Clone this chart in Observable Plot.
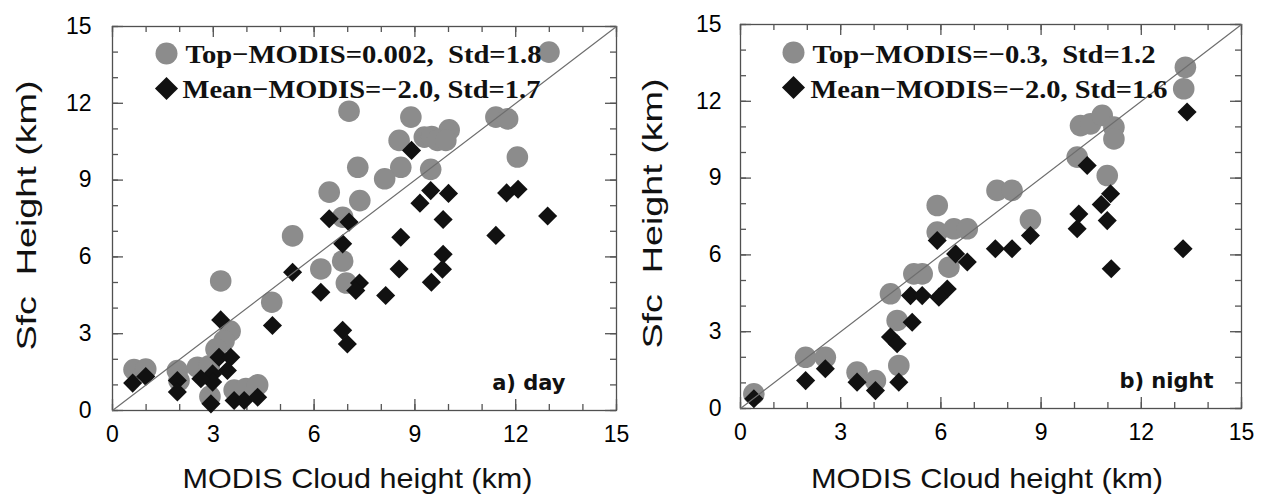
<!DOCTYPE html>
<html>
<head>
<meta charset="utf-8">
<script src="https://cdn.jsdelivr.net/npm/d3@7"></script>
<script src="https://cdn.jsdelivr.net/npm/@observablehq/plot@0.6"></script>
<style>
  html, body { margin: 0; padding: 0; background: #fff; }
  #wrap { position: relative; width: 1265px; height: 494px; overflow: hidden; background: #fff; }
  #pa { position: absolute; left: 0; top: 0; }
  #pb { position: absolute; left: 632px; top: 0; }
</style>
</head>
<body>
<div id="wrap"><div id="pa"></div><div id="pb"></div></div>
<script>
// ---------- data (km) ----------
// a) day : Top-MODIS circles
const dayTopX  = [7.04, 8.88, 10.02, 9.28, 9.5, 9.67, 9.92, 8.53, 11.41, 11.76, 12.05, 12.99, 7.3, 8.58, 8.1, 9.47, 6.45, 7.36, 6.85, 5.36, 6.2, 6.85, 6.96, 3.22, 4.74, 3.5, 3.32, 3.08, 0.64, 0.99, 1.93, 1.98, 2.53, 2.88, 2.9, 3.62, 3.97, 4.32];
const dayTopY  = [11.69, 11.46, 10.96, 10.68, 10.7, 10.55, 10.55, 10.55, 11.46, 11.39, 9.9, 14.0, 9.5, 9.5, 9.05, 9.42, 8.53, 8.2, 7.55, 6.82, 5.53, 5.84, 4.98, 5.06, 4.23, 3.1, 2.72, 2.4, 1.6, 1.62, 1.56, 1.17, 1.69, 1.75, 0.55, 0.8, 0.86, 1.0];
// a) day : Mean-MODIS diamonds
const dayMeanX = [8.9, 9.47, 10.0, 9.15, 11.73, 12.07, 12.95, 11.41, 9.84, 8.58, 9.84, 9.82, 9.49, 8.53, 8.13, 7.35, 7.24, 6.2, 5.36, 6.45, 7.04, 6.85, 6.85, 6.99, 4.76, 3.22, 3.17, 3.52, 3.42, 2.98, 2.98, 2.63, 1.93, 1.93, 0.6, 0.99, 2.93, 3.62, 3.92, 4.32];
const dayMeanY = [10.16, 8.59, 8.48, 8.1, 8.5, 8.64, 7.6, 6.84, 7.46, 6.77, 6.1, 5.52, 5.01, 5.53, 4.49, 4.98, 4.69, 4.62, 5.4, 7.49, 7.36, 6.51, 3.13, 2.6, 3.32, 3.54, 2.08, 2.08, 1.56, 1.43, 1.11, 1.24, 1.17, 0.72, 1.07, 1.33, 0.26, 0.39, 0.39, 0.52];
// b) night : Top-MODIS circles
const nightTopX  = [13.32, 13.27, 10.18, 10.48, 10.83, 11.18, 11.18, 10.08, 10.98, 7.68, 8.13, 5.89, 5.89, 6.39, 6.79, 8.68, 6.24, 5.19, 5.44, 4.49, 4.69, 4.74, 1.95, 2.54, 3.49, 4.04, 0.4];
const nightTopY  = [13.33, 12.49, 11.05, 11.12, 11.45, 10.99, 10.53, 9.82, 9.1, 8.52, 8.52, 7.93, 6.89, 7.02, 7.02, 7.37, 5.52, 5.26, 5.26, 4.48, 3.44, 1.68, 2.0, 2.0, 1.42, 1.09, 0.57];
// b) night : Mean-MODIS diamonds
const nightMeanX = [13.37, 10.38, 11.08, 10.8, 10.13, 10.98, 10.08, 13.25, 11.1, 8.68, 7.63, 8.13, 5.89, 6.44, 6.79, 6.19, 5.94, 5.09, 5.44, 5.14, 4.49, 4.69, 4.74, 4.04, 3.49, 2.54, 1.95, 0.4];
const nightMeanY = [11.58, 9.49, 8.39, 7.97, 7.6, 7.34, 7.02, 6.24, 5.46, 6.76, 6.24, 6.24, 6.56, 6.04, 5.72, 4.67, 4.35, 4.41, 4.41, 3.37, 2.79, 2.53, 1.03, 0.7, 1.03, 1.55, 1.09, 0.38];

const axisDomain = [0, 15];
const majorTicks = [0, 3, 6, 9, 12, 15];
const minorTicks = [0, 1, 2, 3, 4, 5, 6, 7, 8, 9, 10, 11, 12, 13, 14, 15];
const diagonal = [0, 15];
const xTitle = "MODIS Cloud height (km)";
const yTitle = "Sfc  Height (km)";
const dayLegend = ["Top\u2212MODIS=0.002,  Std=1.8", "Mean\u2212MODIS=\u22122.0, Std=1.7"];
const nightLegend = ["Top\u2212MODIS=\u22120.3,  Std=1.2", "Mean\u2212MODIS=\u22122.0, Std=1.6"];
const panelTags = ["a) day", "b) night"];

const zip = (xs, ys) => xs.map((x, i) => ({x, y: ys[i]}));

const frameColor = "#505050";
const tickColor = "#555555";
const circleGray = "#8c8c8c";
const diamondBlack = "#111111";

// short inward ticks on all four sides of the frame
function inwardTicks(ticks, size, innerW, innerH) {
  const st = {stroke: tickColor, strokeWidth: 1.3};
  return [
    Plot.tickX(ticks, {x: d => d, insetTop: innerH - size, ...st}),
    Plot.tickX(ticks, {x: d => d, insetBottom: innerH - size, ...st}),
    Plot.tickY(ticks, {y: d => d, insetRight: innerW - size, ...st}),
    Plot.tickY(ticks, {y: d => d, insetLeft: innerW - size, ...st})
  ];
}

function panel(o) {
  const innerW = o.width - o.ml - o.mr;
  const innerH = 494 - o.mt - o.mb;
  const svg = Plot.plot({
    width: o.width,
    height: 494,
    marginLeft: o.ml, marginRight: o.mr, marginTop: o.mt, marginBottom: o.mb,
    x: {domain: axisDomain, label: null},
    y: {domain: axisDomain, label: null},
    style: {fontFamily: "'Liberation Sans', Arial, Helvetica, sans-serif", fontSize: "23px", color: "black", background: "white", overflow: "visible"},
    marks: [
      Plot.frame({stroke: frameColor, strokeWidth: 1.3}),
      ...inwardTicks(minorTicks, 6, innerW, innerH),
      ...inwardTicks(majorTicks, 11, innerW, innerH),
      Plot.axisX({anchor: "bottom", ticks: majorTicks, tickSize: 0, tickPadding: 15, label: null, fontSize: 23}),
      Plot.axisY({anchor: "left", ticks: majorTicks, tickSize: 0, tickPadding: o.ypad, label: null, fontSize: 23}),
      Plot.dot(o.top, {x: "x", y: "y", r: 10.8, fill: circleGray, stroke: "none"}),
      Plot.dot(o.mean, {x: "x", y: "y", r: 8.6, symbol: "diamond2", fill: diamondBlack, stroke: "none"}),
      Plot.line(diagonal, {x: d => d, y: d => d, stroke: "#6e6e6e", strokeWidth: 1.2}),
      // legend
      Plot.dot([0], {x: null, y: null, frameAnchor: "top-left", dx: o.lg.cx, dy: o.lg.cy1, r: 11, fill: circleGray, stroke: "none"}),
      Plot.dot([0], {x: null, y: null, frameAnchor: "top-left", dx: o.lg.cx, dy: o.lg.cy2, r: 10.4, symbol: "diamond2", fill: diamondBlack, stroke: "none"}),
      Plot.text([o.legend[0]], {text: d => d, frameAnchor: "top-left", dx: o.lg.tx1, dy: o.lg.ty1, textAnchor: "start", lineAnchor: "bottom", fontFamily: "'Liberation Serif', 'Times New Roman', serif", fontWeight: "bold", fontSize: 26, fill: "#111"}),
      Plot.text([o.legend[1]], {text: d => d, frameAnchor: "top-left", dx: o.lg.tx2, dy: o.lg.ty2, textAnchor: "start", lineAnchor: "bottom", fontFamily: "'Liberation Serif', 'Times New Roman', serif", fontWeight: "bold", fontSize: 26, fill: "#111"}),
      // panel tag
      Plot.text([o.tag], {text: d => d, frameAnchor: "bottom-right", dx: o.tagdx, dy: -21, textAnchor: "end", lineAnchor: "bottom", fontFamily: "'DejaVu Sans', sans-serif", fontWeight: "bold", fontSize: 21, fill: "#111"}),
      // axis titles
      Plot.text([xTitle], {text: d => d, frameAnchor: "bottom", dx: o.xtdx, dy: o.xtdy, textAnchor: "middle", lineAnchor: "bottom", fontSize: 28, fill: "#111"}),
      Plot.text([yTitle], {text: d => d, frameAnchor: "left", dx: o.ytdx, dy: -3, rotate: -90, textAnchor: "middle", lineAnchor: "middle", fontSize: 28, fill: "#111"})
    ]
  });
  // stretch a few texts (glyphs included) to the widths they have in the original figure
  d3.select(svg).selectAll("text").each(function () {
    const t = this.textContent;
    const w = o.widths[t];
    if (w) { this.setAttribute("textLength", w); this.setAttribute("lengthAdjust", "spacingAndGlyphs"); }
  });
  return svg;
}

document.getElementById("pa").append(panel({
  width: 632, ml: 112, mr: 16, mt: 26, mb: 84, ypad: 21,
  top: zip(dayTopX, dayTopY), mean: zip(dayMeanX, dayMeanY),
  legend: dayLegend, tag: panelTags[0], tagdx: -51, xtdx: -7, xtdy: 77, ytdx: -85,
  lg: {cx: 54, cy1: 27, cy2: 62, tx1: 73, ty1: 36, tx2: 70, ty2: 71},
  widths: {[dayLegend[0]]: 356, [dayLegend[1]]: 358, [xTitle]: 350, [yTitle]: 270}
}));
document.getElementById("pb").append(panel({
  width: 633, ml: 108, mr: 24, mt: 24, mb: 86, ypad: 19,
  top: zip(nightTopX, nightTopY), mean: zip(nightMeanX, nightMeanY),
  legend: nightLegend, tag: panelTags[1], tagdx: -28, xtdx: -4, xtdy: 79, ytdx: -87,
  lg: {cx: 53, cy1: 28, cy2: 63, tx1: 72, ty1: 38, tx2: 70, ty2: 73},
  widths: {[nightLegend[0]]: 343, [nightLegend[1]]: 357, [xTitle]: 352, [yTitle]: 270}
}));
</script>
</body>
</html>
